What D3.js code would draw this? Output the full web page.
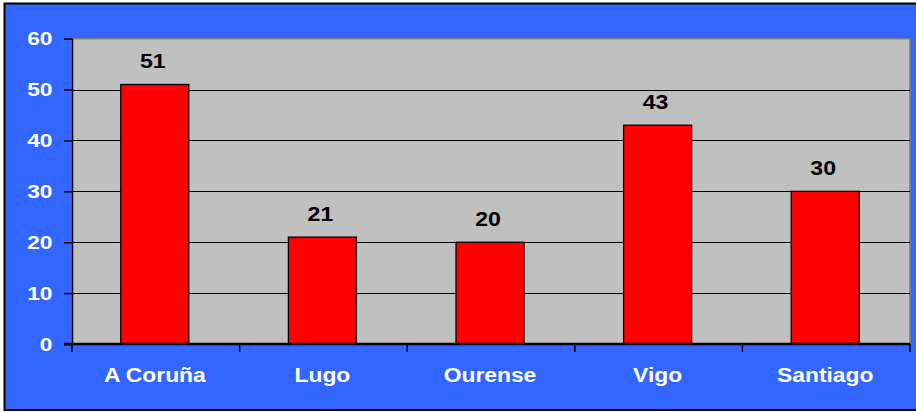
<!DOCTYPE html>
<head>
  <meta charset="utf-8">
  <script src="https://d3js.org/d3.v7.min.js"></script>
  <style>
    body { margin:0; background:#fff; }
    svg { display:block; font-family: "Liberation Sans", Arial, sans-serif; font-weight:bold; }
  </style>
</head>
<body>
  <script>
    // chart values
    var cities = ["A Coruña", "Lugo", "Ourense", "Vigo", "Santiago"];
    var counts = [51, 21, 20, 43, 30];
    var yTicks = [0, 10, 20, 30, 40, 50, 60];

    var W = 916, H = 412,
        plot = {left: 72, top: 38.7, right: 910, bottom: 344};

    var svg = d3.select("body").append("svg")
        .attr("width", W).attr("height", H);

    // outer frame
    svg.append("rect")
        .attr("x", 4.5).attr("y", 3.5)
        .attr("width", W + 10).attr("height", 406.5)
        .attr("fill", "#3366ff")
        .attr("stroke", "#000").attr("stroke-width", 2);

    var band = d3.scaleBand().domain(cities).range([plot.left, plot.right]);
    var y = d3.scaleLinear().domain([0, 60]).range([plot.bottom, plot.top]);

    // the original text is a bit stretched sideways
    function stretched(sel, sx) {
      sel.attr("transform", function(){
        var t = d3.select(this);
        return "translate(" + t.attr("data-x") + "," + t.attr("data-y") + ") scale(" + sx + ",1)";
      });
    }

    // plot area
    svg.append("rect")
        .attr("x", plot.left).attr("y", plot.top)
        .attr("width", plot.right - plot.left).attr("height", plot.bottom - plot.top)
        .attr("fill", "#c0c0c0")
        .attr("stroke", "#808080").attr("stroke-width", 1.5);

    // gridlines
    svg.append("g").selectAll("line").data(yTicks.filter(function(d){ return d > 0 && d < 60; }))
      .enter().append("line")
        .attr("x1", plot.left).attr("x2", plot.right)
        .attr("y1", function(d){ return Math.round(y(d)) + 0.5; })
        .attr("y2", function(d){ return Math.round(y(d)) + 0.5; })
        .attr("stroke", "#000").attr("stroke-width", 1.2);

    // bars
    svg.append("g").selectAll("rect").data(counts)
      .enter().append("rect")
        .attr("x", function(d, i){ return band(cities[i]) + band.bandwidth() / 2 - 35; })
        .attr("y", function(d){ return y(d); })
        .attr("width", 68)
        .attr("height", function(d){ return plot.bottom - y(d); })
        .attr("fill", "#ff0000")
        .attr("stroke", "#000").attr("stroke-width", 1.3);

    // value labels
    svg.append("g").selectAll("text").data(counts)
      .enter().append("text")
        .attr("data-x", function(d, i){ return band(cities[i]) + band.bandwidth() / 2 - 3; })
        .attr("data-y", function(d){ return y(d) - 16; })
        .attr("text-anchor", "middle")
        .attr("font-size", 21)
        .attr("fill", "#000")
        .text(function(d){ return d; })
        .call(stretched, 1.1);

    // y axis line and ticks
    var yAxis = svg.append("g")
        .attr("transform", "translate(" + plot.left + ",0)")
        .call(d3.axisLeft(y).tickValues(yTicks).tickSize(8).tickFormat(""));
    yAxis.select(".domain").attr("stroke", "#000").attr("stroke-width", 1.5);
    yAxis.selectAll(".tick line").attr("stroke", "#000").attr("stroke-width", 1.5);

    svg.append("g").selectAll("text").data(yTicks)
      .enter().append("text")
        .attr("data-x", 52.5)
        .attr("data-y", function(d){ return y(d) + 6.5; })
        .attr("text-anchor", "end")
        .attr("font-size", 19)
        .attr("fill", "#fff")
        .text(function(d){ return d; })
        .call(stretched, 1.2);

    // x axis line
    svg.append("line")
        .attr("x1", plot.left - 8).attr("x2", plot.right)
        .attr("y1", plot.bottom).attr("y2", plot.bottom)
        .attr("stroke", "#000").attr("stroke-width", 2.5);

    svg.append("g").selectAll("text").data(cities)
      .enter().append("text")
        .attr("data-x", function(d){ return band(d) + band.bandwidth() / 2 - 1; })
        .attr("data-y", 381.7)
        .attr("text-anchor", "middle")
        .attr("font-size", 19.5)
        .attr("fill", "#fff")
        .text(function(d){ return d; })
        .call(stretched, 1.17);

    // category separator ticks
    var edges = cities.map(function(c){ return band(c); }).concat([plot.right]);
    svg.append("g").selectAll("line").data(edges)
      .enter().append("line")
        .attr("x1", function(d){ return d; }).attr("x2", function(d){ return d; })
        .attr("y1", plot.bottom).attr("y2", plot.bottom + 8)
        .attr("stroke", "#000").attr("stroke-width", 1.5);
  </script>
</body>
</html>
